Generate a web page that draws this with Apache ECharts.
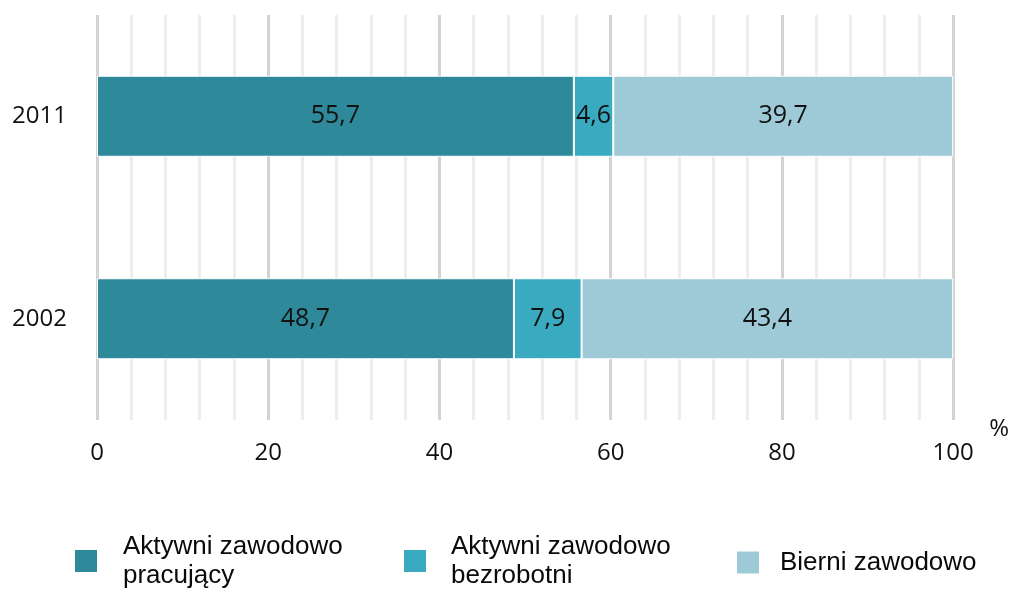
<!DOCTYPE html>
<html><head><meta charset="utf-8">
<script src="https://cdn.jsdelivr.net/npm/echarts@6/dist/echarts.min.js"></script>
<style>html,body{margin:0;padding:0;background:#fff}#c{width:1012px;height:592px}</style>
</head><body><div id="c"></div>
<script>
const categories = ['2002', '2011'];
const seriesNames = ['Aktywni zawodowo pracujący', 'Aktywni zawodowo bezrobotni', 'Bierni zawodowo'];
const legendLabels = ['Aktywni zawodowo\npracujący', 'Aktywni zawodowo\nbezrobotni', 'Bierni zawodowo'];
const pracujacy = [48.7, 55.7];
const bezrobotni = [7.9, 4.6];
const bierni = [43.4, 39.7];
const colors = ['#2e899b', '#3aaac1', '#9ecad8'];
const values = [pracujacy, bezrobotni, bierni];

const chart = echarts.init(document.getElementById('c'), null, {renderer: 'canvas'});
const fontNum = '"Open Sans", "Noto Sans", sans-serif';
const legendLeft = [73, 402, 735];
const legendTop = [532, 532, 548];
const legendPad = [20, 19, 15];
chart.setOption({
  animation: false,
  grid: {left: 97, right: 58, top: 15, bottom: 172},
  xAxis: {
    type: 'value', min: 0, max: 100, interval: 20,
    axisLine: {show: false}, axisTick: {show: false},
    axisLabel: {fontSize: 24, color: '#111', fontFamily: fontNum, margin: 21},
    splitLine: {show: true, lineStyle: {color: '#d3d3d3', width: 3}},
    minorTick: {show: false, splitNumber: 5},
    minorSplitLine: {show: true, lineStyle: {color: '#ededed', width: 3}},
    name: '%', nameLocation: 'end', nameGap: 36,
    nameTextStyle: {fontSize: 24, color: '#111', fontFamily: fontNum, verticalAlign: 'top', lineHeight: 18}
  },
  yAxis: {
    type: 'category', data: categories,
    axisLine: {show: false}, axisTick: {show: false},
    axisLabel: {fontSize: 24, color: '#111', fontFamily: fontNum, margin: 30}
  },
  legend: seriesNames.map((n, i) => ({
    data: [n], left: legendLeft[i], top: legendTop[i], padding: 0,
    itemWidth: 24, itemHeight: 24, icon: 'rect',
    formatter: () => legendLabels[i],
    textStyle: {fontSize: 26, lineHeight: 29, color: '#0a0a0a', fontFamily: '"Liberation Sans", Arial, sans-serif', padding: [0, 0, 0, legendPad[i]]}
  })),
  series: seriesNames.map((n, i) => ({
    name: n, type: 'bar', stack: 'total', barWidth: '40%',
    data: values[i],
    itemStyle: {color: colors[i], borderColor: '#ffffff', borderWidth: 1},
    label: {show: true, position: 'inside', color: '#111', fontSize: 25, fontFamily: fontNum,
      formatter: p => String(p.value).replace('.', ',')}
  }))
});
</script></body></html>
